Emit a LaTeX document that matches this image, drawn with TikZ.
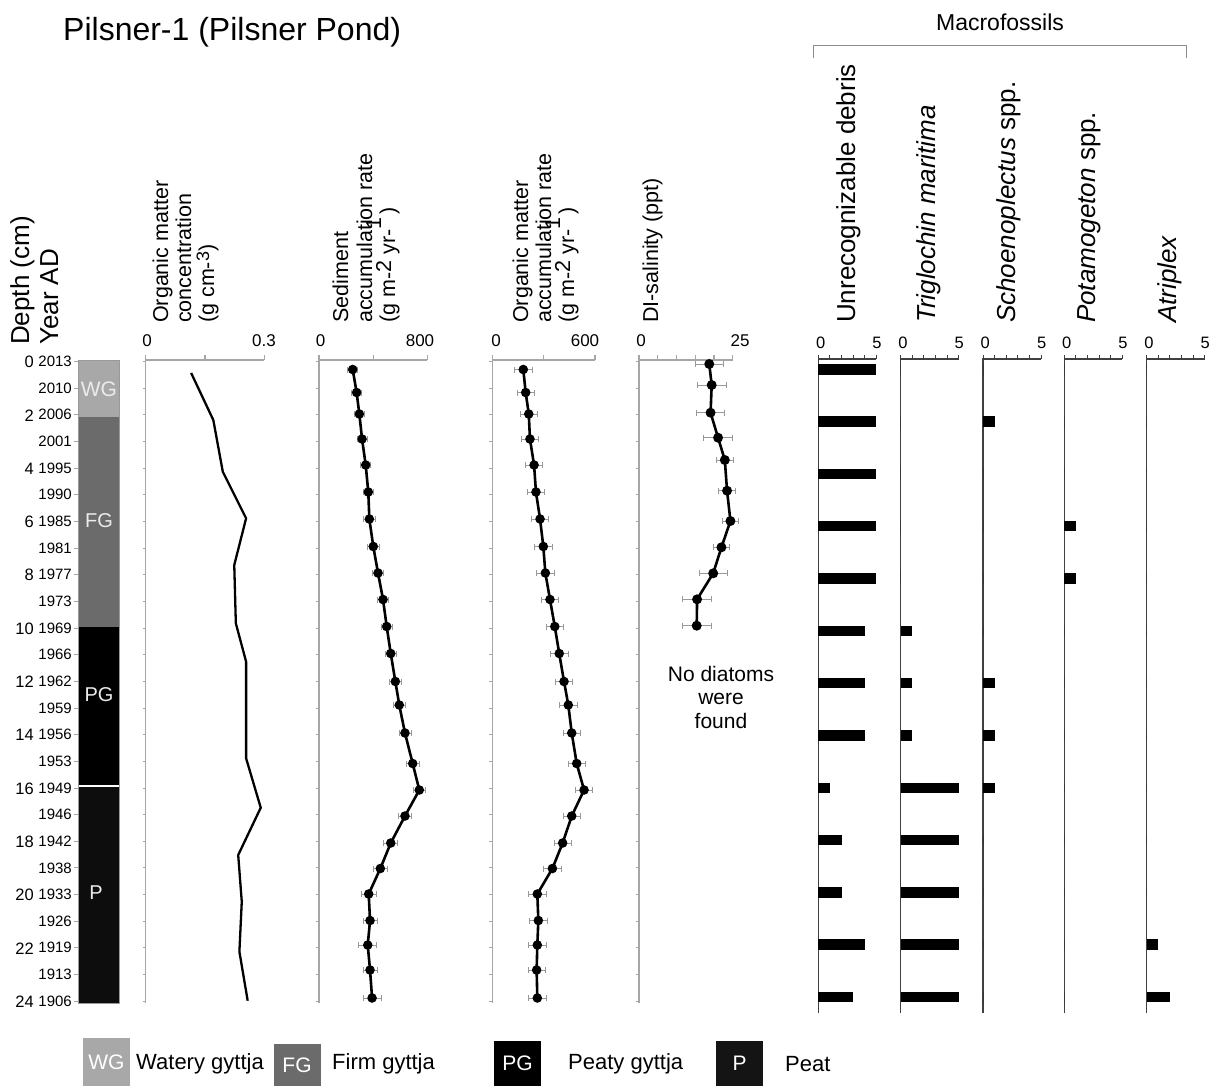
\documentclass[tikz,border=0pt]{standalone}
\usepackage{fontspec}
\setmainfont{Liberation Sans}
\usetikzlibrary{arrows.meta}
\newcommand{\fsz}[1]{\fontsize{#1}{#1}\selectfont}

\def\sedrate{249/40/369.5,278/40/392.5,298/40/414,318/40/439,345/40/465,364/40/492,372/45/519,401/45/546.5,436/45/573,473/45/599.5,500/45/626.5,530/45/653.5,564/45/681.5,593/47/705,635/47/733,692/50/763.5,741/47/790,635/50/816,530/55/843,453/55/868.5,367/60/894,377/55/920.5,360/70/945,377/55/970,392/70/998}
\def\omrate{181/53/369.5,195/53/392.5,213/53/414,220/53/439,244/53/465,255/53/492,279/53/519,298/53/546.5,310/53/573,337/53/599.5,365/53/626.5,391/53/653.5,419/53/681.5,444/53/705,464/53/733,493/53/763.5,536/53/790,464/53/816,411/53/843,351/53/868.5,263/53/894,269/53/920.5,263/53/945,259/53/970,263/53/998}
\def\disal{18.75/3.8/364,19.4/3.9/385,19.1/3.8/412.7,21.1/3.9/437.7,22.9/2.3/460,23.5/2.3/490.7,24.4/2.2/521,22.0/2.3/547.3,19.8/3.8/573.3,15.5/3.9/599.3,15.4/3.9/625.7}

\begin{document}
\begin{tikzpicture}[x=1pt,y=-1pt,
    axisline/.style={draw=black!35,line width=1.1pt},
    macline/.style={draw=black!75,line width=1.3pt},
    dataline/.style={line width=2.6pt,line cap=round,line join=round},
    errbar/.style={draw=black!40,line width=0.8pt,{Bar[width=6pt]}-{Bar[width=6pt]}},
    vlab/.style={rotate=90,anchor=base west,inner sep=0pt,font=\fsz{21.5}},
    mlab/.style={rotate=90,anchor=base west,inner sep=0pt,font=\fsz{26}},
    ticklab/.style={inner sep=0pt,font=\fsz{17}},
    laylab/.style={text=white!92!black,inner sep=0pt,font=\fsz{20}},
    legbox/.style={minimum width=47pt,inner sep=0pt,text=white,font=\fsz{21}},
    legtxt/.style={anchor=west,inner sep=0pt,font=\fsz{22}}]
    \useasboundingbox (0,0) rectangle (1220,1087);
    \node[anchor=base west,inner sep=0pt,font=\fsz{32}] (title) at (63,40) {Pilsner-1 (Pilsner Pond)};
    \node[vlab,font=\fsz{26}] (depthhead) at (29,345) {Depth (cm)};
    \node[vlab,font=\fsz{26}] (yearhead) at (58,345) {Year AD};
    \foreach \yr [count=\k from 0] in {2013,2010,2006,2001,1995,1990,1985,1981,1977,1973,1969,1966,1962,1959,1956,1953,1949,1946,1942,1938,1933,1926,1919,1913,1906}{
        \node[anchor=east,inner sep=0pt,font=\fsz{15}] (yr\k) at (72,361.5+26.65*\k) {\yr};
        \draw[axisline,line width=0.8pt] (74,361.5+26.65*\k) -- (77.5,361.5+26.65*\k);
    }
    \foreach \d in {0,2,...,24}
        \node[anchor=east,inner sep=0pt,font=\fsz{16.5}] (dep\d) at (34,362+26.65*\d) {\d};
    \fill[black!34] (78,360) rectangle (119,417);
    \fill[black!58] (78,417) rectangle (119,627);
    \fill[black] (78,627) rectangle (119,786);
    \fill[black!95] (78,786) rectangle (119,1003);
    \draw[black!40,line width=0.8pt] (78,360) rectangle (119,1003);
    \draw[white,line width=2pt] (78.5,786) -- (118.5,786);
    \node[laylab,font=\fsz{21}] (wg) at (99,389) {WG};
    \node[laylab] (fg) at (99,521) {FG};
    \node[laylab] (pg) at (99,695) {PG};
    \node[laylab] (p) at (96,893) {P};
    \foreach \xa/\xb/\nt in {145.7/264.3/2,319/427.3/2,492.3/595/2,639/732.7/5}{
        \draw[axisline] (\xa,1003) -- (\xa,360) -- (\xb,360);
        \foreach \t in {0,...,\nt} \draw[axisline] ({\xa+(\xb-\xa)*\t/\nt},360) -- ++(0,-5);
        \foreach \k in {0,...,24} \draw[axisline,line width=0.8pt] (\xa,361.5+26.65*\k) -- ++(-3,0);
    }
    \node[ticklab] (oc0) at (147,341) {0};
    \node[ticklab] (ocmax) at (264,341) {0.3};
    \node[ticklab] (sa0) at (320.5,341) {0};
    \node[ticklab] (samax) at (420,341) {800};
    \node[ticklab] (oa0) at (496,341) {0};
    \node[ticklab] (oamax) at (585,341) {600};
    \node[ticklab] (ds0) at (641,341) {0};
    \node[ticklab] (dsmax) at (740,341) {25};
    \node[vlab] (oc1) at (168,323) {Organic matter};
    \node[vlab] (oc2) at (191,323) {concentration};
    \node[vlab] (oc3) at (214,323) {(g cm-\raisebox{5pt}{\fsz{18}3})};
    \node[vlab] (sa1) at (348,323) {Sediment};
    \node[vlab] (sa2) at (372,323) {accumulation rate};
    \node[vlab] (sa3) at (395,323) {(g m-\raisebox{4pt}{2} yr-\raisebox{14pt}{1}\,)};
    \node[vlab] (oa1) at (528,323) {Organic matter};
    \node[vlab] (oa2) at (551,323) {accumulation rate};
    \node[vlab] (oa3) at (574,323) {(g m-\raisebox{4pt}{2} yr-\raisebox{14pt}{1}\,)};
    \node[vlab] (ds1) at (658,323) {DI-salinity (ppt)};
    \begin{scope}[shift={(145.7,0)},x=395.33pt]
    \draw[line width=2.3pt,line join=round] (0.115,373) -- (0.171,420) -- (0.195,471.7) -- (0.254,518.3) -- (0.224,565) -- (0.228,623.3) -- (0.254,661.7) -- (0.254,758.3) -- (0.291,807.7) -- (0.234,855) -- (0.243,901.7) -- (0.237,951.7) -- (0.258,1000.7);
    \end{scope}
    \begin{scope}[shift={(319,0)},x=0.13538pt]
    \foreach \v/\e/\y in \sedrate \draw[errbar] (\v-\e,\y) -- (\v+\e,\y);
    \foreach \v/\e/\y [count=\i,remember=\v as \pv,remember=\y as \py] in \sedrate {\ifnum\i>1 \draw[dataline] (\pv,\py) -- (\v,\y);\fi}
    \foreach \v/\e/\y in \sedrate \fill (\v,\y) circle (4.8pt);
    \end{scope}
    \begin{scope}[shift={(492.3,0)},x=0.17117pt]
    \foreach \v/\e/\y in \omrate \draw[errbar] (\v-\e,\y) -- (\v+\e,\y);
    \foreach \v/\e/\y [count=\i,remember=\v as \pv,remember=\y as \py] in \omrate {\ifnum\i>1 \draw[dataline] (\pv,\py) -- (\v,\y);\fi}
    \foreach \v/\e/\y in \omrate \fill (\v,\y) circle (4.8pt);
    \end{scope}
    \begin{scope}[shift={(639,0)},x=3.747pt]
    \foreach \v/\e/\y in \disal \draw[errbar] (\v-\e,\y) -- (\v+\e,\y);
    \foreach \v/\e/\y [count=\i,remember=\v as \pv,remember=\y as \py] in \disal {\ifnum\i>1 \draw[dataline] (\pv,\py) -- (\v,\y);\fi}
    \foreach \v/\e/\y in \disal \fill (\v,\y) circle (5pt);
    \end{scope}
    \node[align=center,font=\fontsize{21}{23.5}\selectfont] (nodiat) at (721,697) {No diatoms\\were\\found};
    \foreach \xo/\vals [count=\c] in {818.3/{5,5,5,5,5,4,4,4,1,2,2,4,3},900.7/{0,0,0,0,0,1,1,1,5,5,5,5,5},983/{0,1,0,0,0,0,1,1,1,0,0,0,0},1064.3/{0,0,0,1,1,0,0,0,0,0,0,0,0},1146.7/{0,0,0,0,0,0,0,0,0,0,0,1,2}}{
        \begin{scope}[shift={(\xo,0)},x=11.6pt]
        \draw[macline] (0,1013) -- (0,359) -- (5,359);
        \foreach \t in {0,...,5} \draw[macline,line width=1pt] (\t,359) -- ++(0,-4);
        \foreach \v [count=\i from 0] in \vals \fill (0,369.3+52.3*\i-5.2) rectangle (\v,369.3+52.3*\i+5.2);
        \node[ticklab,font=\fsz{16.5}] (mz\c) at (0.2,343) {0};
        \node[ticklab,font=\fsz{16.5}] (mf\c) at (5.05,343) {5};
        \end{scope}
    }
    \node[mlab] (hunrec) at (855,323) {Unrecognizable debris};
    \node[mlab] (htrig) at (935,323) {\itshape Triglochin maritima};
    \node[mlab] (hschoe) at (1015,323) {\textit{Schoenoplectus} spp.};
    \node[mlab] (hpota) at (1095,323) {\textit{Potamogeton} spp.};
    \node[mlab] (hatri) at (1176,323) {\textit{Atriplex}};
    \node[anchor=base,inner sep=0pt,font=\fsz{23}] (macrohead) at (1000,30) {Macrofossils};
    \draw[black!45,line width=1pt] (813,58) -- (813,45) -- (1186,45) -- (1186,58);
    \node[legbox,fill=black!34,minimum height=48pt] (lwg) at (106.5,1062) {WG};
    \node[legtxt] (twg) at (136,1064) {Watery gyttja};
    \node[legbox,fill=black!58,minimum height=42pt] (lfg) at (297,1065) {FG};
    \node[legtxt] (tfg) at (332,1064) {Firm gyttja};
    \node[legbox,fill=black,minimum height=45pt] (lpg) at (517.5,1063.5) {PG};
    \node[legtxt] (tpg) at (568,1064) {Peaty gyttja};
    \node[legbox,fill=black!92,minimum height=45pt] (lp) at (739.5,1063.5) {P};
    \node[legtxt] (tp) at (785,1064) {Peat};
\end{tikzpicture}
\end{document}
